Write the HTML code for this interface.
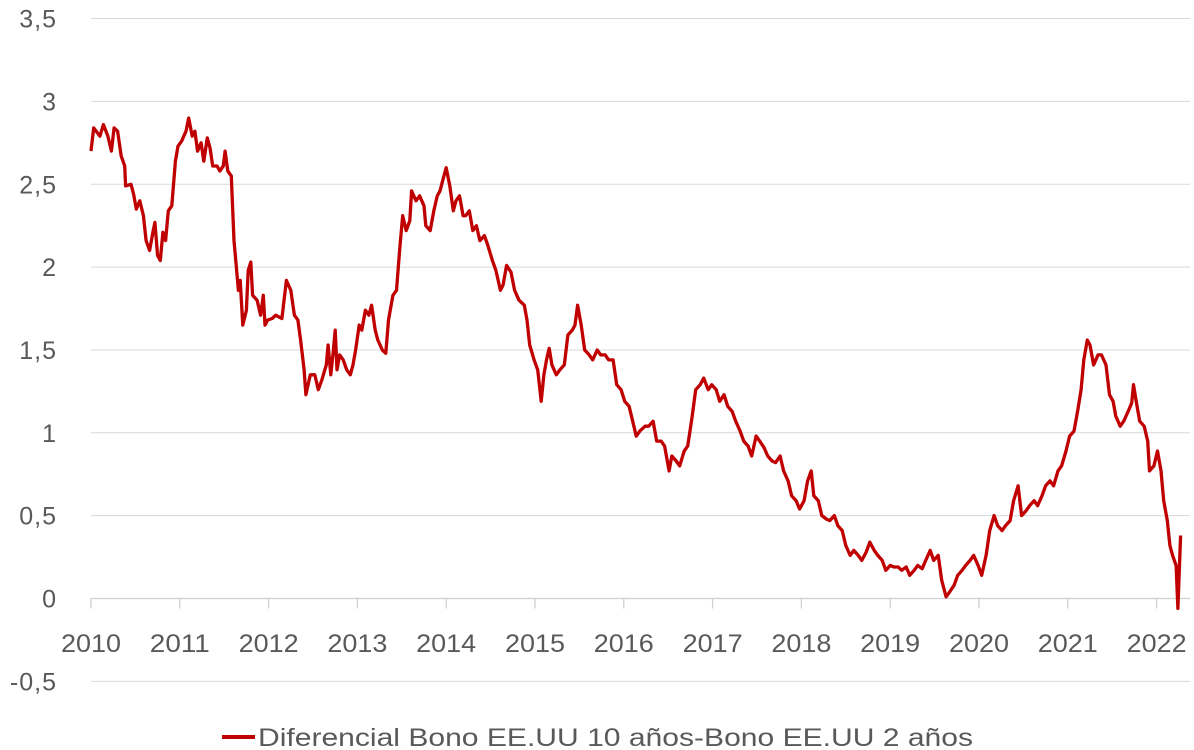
<!DOCTYPE html>
<html><head><meta charset="utf-8"><style>
html,body{margin:0;padding:0;background:#fff;}
svg{display:block;font-family:"Liberation Sans",sans-serif;}
</style></head><body>
<svg id="chart" width="1194" height="750" xmlns="http://www.w3.org/2000/svg">
<g id="grid"></g>
<g id="yaxis"></g>
<g id="xaxis"></g>
<g id="series"></g>
<g>
<line x1="222" y1="737" x2="255" y2="737" stroke="#c00000" stroke-width="4"/>
<text x="258" y="746" font-size="25" fill="#595959" textLength="715" lengthAdjust="spacingAndGlyphs">Diferencial Bono EE.UU 10 años-Bono EE.UU 2 años</text>
</g>
</svg>
<script>
const yTicks=[-0.5,0,0.5,1,1.5,2,2.5,3,3.5];
const yTickLabels=["-0,5","0","0,5","1","1,5","2","2,5","3","3,5"];
const xYears=[2010,2011,2012,2013,2014,2015,2016,2017,2018,2019,2020,2021,2022];
const dates=[2010.00,2010.03,2010.10,2010.14,2010.19,2010.23,2010.26,2010.30,2010.34,2010.38,2010.39,2010.45,2010.48,2010.51,2010.55,2010.59,2010.62,2010.66,2010.70,2010.72,2010.75,2010.78,2010.81,2010.84,2010.87,2010.91,2010.95,2010.98,
2011.02,2011.07,2011.10,2011.14,2011.17,2011.20,2011.24,2011.27,2011.31,2011.34,2011.37,2011.42,2011.45,2011.49,2011.51,2011.54,2011.58,2011.61,2011.66,2011.68,2011.71,2011.75,2011.77,2011.80,2011.82,2011.87,2011.91,2011.94,2011.96,2011.99,
2012.04,2012.08,2012.15,2012.20,2012.25,2012.29,2012.33,2012.36,2012.40,2012.42,2012.47,2012.52,2012.56,2012.60,2012.65,2012.67,2012.70,2012.73,2012.75,2012.77,2012.80,2012.84,2012.88,2012.92,2012.95,2012.98,
2013.02,2013.05,2013.09,2013.13,2013.16,2013.20,2013.23,2013.28,2013.32,2013.35,2013.40,2013.44,2013.48,2013.51,2013.55,2013.59,2013.61,2013.66,2013.70,2013.75,2013.77,2013.82,2013.86,2013.90,2013.93,2013.96,
2014.00,2014.04,2014.08,2014.11,2014.15,2014.19,2014.22,2014.26,2014.30,2014.34,2014.38,2014.43,2014.47,2014.52,2014.56,2014.61,2014.64,2014.68,2014.73,2014.77,2014.82,2014.88,2014.91,2014.94,2014.99,
2015.03,2015.07,2015.10,2015.13,2015.16,2015.19,2015.24,2015.28,2015.33,2015.37,2015.42,2015.45,2015.48,2015.52,2015.56,2015.61,2015.65,2015.70,2015.74,2015.79,2015.83,2015.88,2015.92,2015.97,
2016.01,2016.06,2016.10,2016.14,2016.18,2016.24,2016.28,2016.33,2016.37,2016.42,2016.46,2016.51,2016.54,2016.59,2016.63,2016.68,2016.72,2016.77,2016.81,2016.86,2016.90,2016.95,2016.99,
2017.04,2017.08,2017.13,2017.17,2017.22,2017.26,2017.31,2017.35,2017.40,2017.44,2017.49,2017.53,2017.58,2017.62,2017.67,2017.71,2017.76,2017.80,2017.85,2017.89,2017.94,2017.98,
2018.03,2018.07,2018.11,2018.14,2018.19,2018.23,2018.28,2018.32,2018.37,2018.41,2018.46,2018.50,2018.55,2018.59,2018.64,2018.68,2018.73,2018.77,2018.82,2018.86,2018.91,2018.95,
2019.00,2019.04,2019.09,2019.13,2019.18,2019.22,2019.27,2019.31,2019.36,2019.40,2019.45,2019.49,2019.54,2019.58,2019.63,2019.67,2019.72,2019.76,2019.81,2019.85,2019.90,2019.94,2019.99,
2020.03,2020.08,2020.12,2020.17,2020.21,2020.26,2020.30,2020.35,2020.39,2020.44,2020.48,2020.53,2020.57,2020.62,2020.66,2020.71,2020.75,2020.80,2020.84,2020.89,2020.93,2020.98,
2021.02,2021.07,2021.11,2021.15,2021.18,2021.22,2021.25,2021.29,2021.34,2021.38,2021.43,2021.47,2021.51,2021.54,2021.59,2021.63,2021.68,2021.72,2021.74,2021.77,2021.81,2021.86,2021.90,2021.92,2021.97,
2022.01,2022.05,2022.08,2022.12,2022.15,2022.18,2022.22,2022.24,2022.27];
const values=[2.70,2.84,2.79,2.86,2.79,2.70,2.84,2.82,2.67,2.61,2.49,2.50,2.44,2.35,2.40,2.31,2.16,2.10,2.22,2.27,2.07,2.04,2.21,2.16,2.34,2.37,2.64,2.73,
2.76,2.82,2.90,2.79,2.82,2.70,2.75,2.64,2.78,2.72,2.61,2.61,2.58,2.61,2.70,2.58,2.55,2.16,1.86,1.92,1.65,1.74,1.98,2.03,1.83,1.80,1.71,1.83,1.65,1.68,
1.69,1.71,1.69,1.92,1.86,1.71,1.68,1.56,1.38,1.23,1.35,1.35,1.26,1.32,1.41,1.53,1.35,1.50,1.62,1.38,1.47,1.44,1.38,1.35,1.41,1.50,
1.65,1.62,1.74,1.71,1.77,1.62,1.56,1.50,1.48,1.68,1.83,1.86,2.13,2.31,2.22,2.28,2.46,2.40,2.43,2.37,2.25,2.22,2.34,2.43,2.46,2.52,
2.60,2.49,2.34,2.40,2.43,2.31,2.31,2.34,2.22,2.25,2.16,2.19,2.13,2.04,1.98,1.86,1.89,2.01,1.97,1.86,1.80,1.77,1.68,1.53,1.44,
1.38,1.19,1.35,1.44,1.51,1.41,1.35,1.38,1.41,1.59,1.62,1.65,1.77,1.65,1.50,1.47,1.44,1.50,1.47,1.47,1.44,1.44,1.29,1.26,
1.19,1.16,1.07,0.98,1.01,1.04,1.04,1.07,0.95,0.95,0.92,0.77,0.86,0.83,0.80,0.89,0.92,1.10,1.26,1.29,1.33,1.26,1.29,
1.26,1.19,1.23,1.16,1.13,1.07,1.01,0.95,0.92,0.86,0.98,0.95,0.91,0.86,0.83,0.82,0.86,0.77,0.71,0.62,0.59,0.54,
0.59,0.71,0.77,0.62,0.59,0.50,0.48,0.47,0.50,0.44,0.41,0.32,0.26,0.29,0.26,0.23,0.28,0.34,0.29,0.26,0.23,0.17,
0.20,0.19,0.19,0.17,0.19,0.14,0.17,0.20,0.18,0.23,0.29,0.23,0.26,0.11,0.01,0.04,0.08,0.14,0.17,0.20,0.23,0.26,0.20,
0.14,0.26,0.41,0.50,0.44,0.41,0.44,0.47,0.59,0.68,0.50,0.53,0.56,0.59,0.56,0.62,0.68,0.71,0.68,0.77,0.80,0.89,
0.98,1.01,1.13,1.26,1.44,1.56,1.53,1.41,1.47,1.47,1.41,1.23,1.19,1.10,1.04,1.07,1.13,1.18,1.29,1.19,1.07,1.04,0.95,0.77,0.80,
0.89,0.77,0.59,0.47,0.32,0.26,0.20,-0.06,0.38];

const X0=91, XSTEP=88.8, Y0=598.5, YSCALE=165.7;
const xs=d=>X0+(d-2010)*XSTEP;
const ys=v=>Y0-v*YSCALE;
const NS="http://www.w3.org/2000/svg";
const grid=document.getElementById('grid'), yax=document.getElementById('yaxis'), xax=document.getElementById('xaxis'), ser=document.getElementById('series');
yTicks.forEach((t,i)=>{
  if(t!==0){
    const l=document.createElementNS(NS,'line');
    
    
    l.setAttribute('x1',91);l.setAttribute('x2',1190);
    l.setAttribute('y1',ys(t));l.setAttribute('y2',ys(t));
    l.setAttribute('stroke','#d9d9d9');l.setAttribute('stroke-width','1');
    grid.appendChild(l);
  }
  const tx=document.createElementNS(NS,'text');
  
  
  tx.setAttribute('x',57);tx.setAttribute('y',ys(t)+9);
  tx.setAttribute('text-anchor','end');tx.setAttribute('font-size','25');tx.setAttribute('fill','#595959');
  tx.setAttribute('letter-spacing','1');
  tx.textContent=yTickLabels[i];
  yax.appendChild(tx);
});
const ax=document.createElementNS(NS,'line');


ax.setAttribute('x1',91);ax.setAttribute('x2',1190);ax.setAttribute('y1',Y0);ax.setAttribute('y2',Y0);
ax.setAttribute('stroke','#d0d0d0');ax.setAttribute('stroke-width','1.3');
xax.appendChild(ax);
xYears.forEach(yr=>{
  const tk=document.createElementNS(NS,'line');
  
  
  tk.setAttribute('x1',xs(yr));tk.setAttribute('x2',xs(yr));tk.setAttribute('y1',Y0);tk.setAttribute('y2',Y0+10);
  tk.setAttribute('stroke','#d0d0d0');tk.setAttribute('stroke-width','1.3');
  xax.appendChild(tk);
  const tx=document.createElementNS(NS,'text');
  
  
  tx.setAttribute('x',xs(yr));tx.setAttribute('y',652);
  tx.setAttribute('text-anchor','middle');tx.setAttribute('font-size','25');tx.setAttribute('fill','#595959');
  tx.setAttribute('textLength','60');tx.setAttribute('lengthAdjust','spacingAndGlyphs');
  tx.textContent=String(yr);
  xax.appendChild(tx);
});
const n=Math.min(dates.length,values.length);
let d='';
for(let i=0;i<n;i++){d+=(i?'L':'M')+xs(dates[i]).toFixed(1)+','+ys(values[i]).toFixed(1);}
const p=document.createElementNS(NS,'path');


p.setAttribute('d',d);p.setAttribute('fill','none');p.setAttribute('stroke','#c00000');
p.setAttribute('stroke-width','3.3');p.setAttribute('stroke-linejoin','round');
ser.appendChild(p);
</script>
</body></html>
